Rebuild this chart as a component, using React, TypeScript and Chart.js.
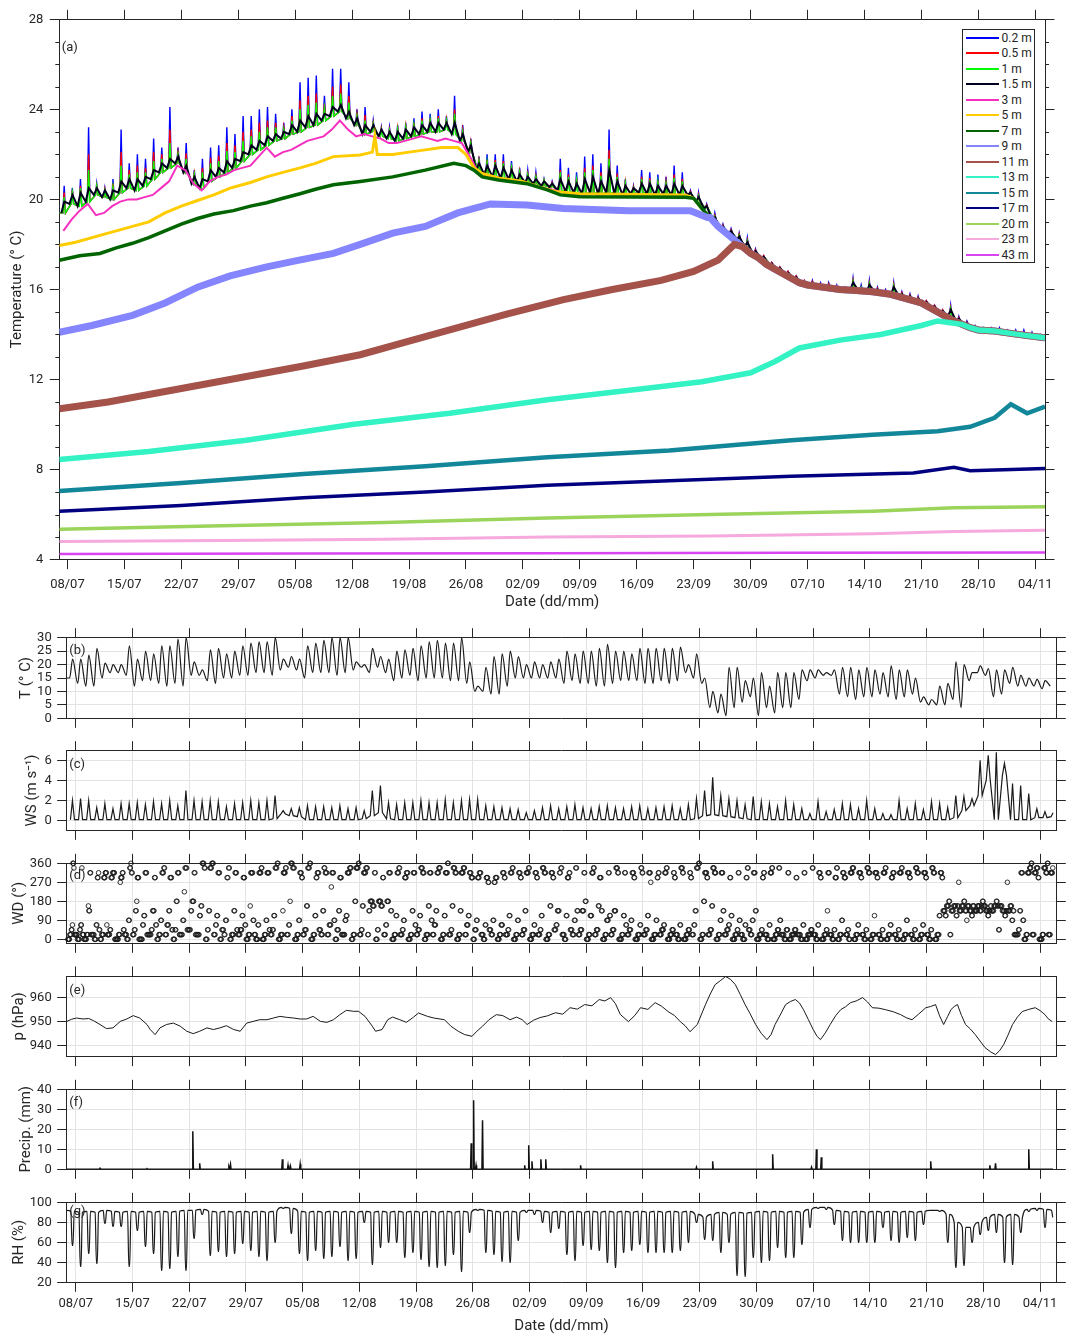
import React, { useEffect, useRef } from 'react';
import { Chart, registerables } from 'chart.js';

Chart.register(...registerables);

const FONT = 'Roboto, "DejaVu Sans", sans-serif';
const TEXT = '#262626';
const AXIS = '#262626';
const GRID = '#e3e3e3';

// ---------- axis ticks ----------
const TICK_DAYS = [1, 8, 15, 22, 29, 36, 43, 50, 57, 64, 71, 78, 85, 92, 99, 106, 113, 120];
const TICK_LABELS = ['08/07', '15/07', '22/07', '29/07', '05/08', '12/08', '19/08', '26/08', '02/09', '09/09', '16/09', '23/09', '30/09', '07/10', '14/10', '21/10', '28/10', '04/11'];
const TA_TICKS = [4, 8, 12, 16, 20, 24, 28];
const TA_MINOR = [5, 6, 7, 9, 10, 11, 13, 14, 15, 17, 18, 19, 21, 22, 23, 25, 26, 27];

// ---------- panel (a): water temperature ----------
const LEGEND_NAMES = ['0.2 m', '0.5 m', '1 m', '1.5 m', '3 m', '5 m', '7 m', '9 m', '11 m', '13 m', '15 m', '17 m', '20 m', '23 m', '43 m'];
const SERIES_COLORS = ['#0000ff', '#ff0000', '#00ff00', '#00001e', '#f52fbf', '#ffcc00', '#006400', '#8585ff', '#a4524a', '#33f2c4', '#13879a', '#000080', '#9bd45a', '#f5a9dc', '#d945f0'];

// surface thermistors: daily baseline and daily afternoon maxima (day 0 = 07/07)
const BLACK_LO = [19.4,19.8,19.7,19.9,20.2,20.1,20.0,20.3,20.5,20.4,
20.6,20.9,21.2,21.4,21.6,21.2,20.7,20.5,20.8,21.0,
21.2,21.4,21.7,22.0,22.2,22.4,22.6,22.7,22.9,23.0,
23.2,23.3,23.5,23.7,23.9,23.6,23.3,22.9,23.0,22.8,
22.7,22.6,22.7,22.8,22.9,23.0,23.0,23.1,22.9,22.6,
22.1,21.3,21.1,21.0,20.95,20.9,20.8,20.75,20.7,20.6,
20.55,20.4,20.35,20.3,20.25,20.3,20.25,20.3,20.25,20.2,
20.25,20.3,20.25,20.2,20.25,20.2,20.2,20.2,19.9,19.6,
19.1,18.7,18.5,18.2,17.9,17.6,17.4,17.1,16.9,16.7,
16.5,16.3,16.2,16.15,16.1,16.05,16.0,16.0,15.95,15.9,
15.9,15.85,15.8,15.7,15.6,15.5,15.4,15.2,15.0,14.8,
14.6,14.45,14.3,14.2,14.2,14.15,14.1,14.05,14.0,13.95,
13.9,13.85];
const BLACK_HI = [19.9,20.2,20.3,20.5,20.5,20.4,20.4,20.8,20.9,20.9,
21.0,21.3,21.6,21.8,21.9,21.5,21.0,20.9,21.3,21.4,
21.7,21.8,22.1,22.4,22.6,22.8,22.9,23.0,23.3,23.5,
23.7,23.8,23.8,24.1,24.2,23.9,23.6,23.3,23.3,23.1,
23.0,23.0,23.1,23.2,23.3,23.4,23.4,23.4,23.4,22.9,
22.4,21.6,21.5,21.5,21.4,21.3,21.1,21.0,20.9,20.8,
20.7,20.9,20.8,20.7,20.9,21.0,20.8,21.3,20.8,20.6,
20.5,20.7,20.7,20.6,20.6,20.7,20.6,20.3,20.1,19.7,
19.2,18.8,18.6,18.35,18.1,17.7,17.45,17.15,16.95,16.75,
16.55,16.35,16.3,16.2,16.2,16.1,16.05,16.3,16.05,16.2,
16.0,15.9,16.1,15.8,15.7,15.6,15.45,15.25,15.05,15.1,
14.7,14.5,14.35,14.25,14.25,14.2,14.15,14.1,14.05,14.0,
13.95,13.87];
const BLUE_HI = [20.6,20.5,20.9,23.2,20.7,20.5,20.9,23.1,21.6,22.0,
21.8,22.7,22.3,24.1,22.3,22.5,21.3,21.8,22.3,22.4,
23.2,22.9,23.7,23.7,24.0,24.1,23.8,23.4,24.0,25.2,
25.4,25.5,24.6,25.8,25.8,25.2,24.0,24.1,23.5,23.2,
23.2,23.3,23.4,23.6,23.9,23.8,24.0,23.7,24.6,23.3,
22.7,21.9,22.0,22.0,22.0,21.7,21.4,21.3,21.2,20.9,
20.8,21.8,21.4,21.2,21.9,22.0,21.6,23.1,21.5,20.9,
20.6,21.3,21.2,21.1,21.0,21.5,21.2,20.4,20.3,19.8,
19.4,18.9,18.7,18.5,18.3,17.8,17.5,17.2,17.0,16.8,
16.6,16.4,16.4,16.3,16.3,16.2,16.1,16.5,16.2,16.4,
16.1,16.0,16.3,15.9,15.8,15.7,15.5,15.3,15.1,15.3,
14.8,14.6,14.4,14.3,14.3,14.3,14.2,14.2,14.2,14.1,
14.0,13.9];
const RED_HI = [20.3,20.4,20.6,22.0,20.6,20.45,20.7,22.1,21.3,21.5,
21.4,22.1,22.0,23.1,22.1,22.05,21.15,21.4,21.85,21.95,
22.5,22.4,23.0,23.1,23.4,23.5,23.4,23.2,23.7,24.4,
24.6,24.7,24.25,25.0,25.1,24.6,23.8,23.75,23.4,23.15,
23.1,23.15,23.25,23.4,23.6,23.6,23.7,23.55,24.0,23.1,
22.55,21.75,21.75,21.75,21.7,21.5,21.25,21.15,21.05,20.85,
20.75,21.3,21.1,20.95,21.4,21.5,21.2,22.2,21.15,20.75,
20.55,21.0,20.95,20.85,20.8,21.1,20.9,20.35,20.2,19.75,
19.3,18.85,18.65,18.45,18.2,17.75,17.5,17.2,17.0,16.8,
16.6,16.4,16.35,16.25,16.25,16.15,16.1,16.4,16.1,16.3,
16.05,15.95,16.2,15.85,15.75,15.65,15.5,15.3,15.1,15.2,
14.75,14.55,14.38,14.28,14.28,14.25,14.18,14.15,14.1,14.05,
13.98,13.9];
const GREEN_HI = [20.1,20.3,20.5,21.3,20.6,20.4,20.55,21.5,21.1,21.2,
21.2,21.7,21.8,22.5,22.0,21.8,21.1,21.2,21.6,21.7,
22.15,22.1,22.6,22.8,23.0,23.2,23.2,23.1,23.5,24.0,
24.2,24.3,24.05,24.6,24.7,24.3,23.7,23.5,23.35,23.1,
23.05,23.1,23.2,23.3,23.5,23.5,23.6,23.5,23.8,23.0,
22.5,21.7,21.65,21.65,21.6,21.4,21.2,21.1,21.0,20.85,
20.7,21.2,21.0,20.85,21.2,21.3,21.05,21.8,21.0,20.7,
20.5,20.9,20.85,20.75,20.7,20.95,20.8,20.3,20.15,19.7,
19.25,18.8,18.6,18.4,18.15,17.7,17.45,17.15,16.95,16.75,
16.55,16.35,16.3,16.2,16.2,16.1,16.05,16.35,16.1,16.25,
16.0,15.9,16.15,15.8,15.7,15.6,15.45,15.25,15.05,15.15,
14.7,14.5,14.36,14.26,14.26,14.22,14.16,14.12,14.07,14.02,
13.96,13.88];
// 3 m daily values until the column mixes (day 77)
const PINK_3M = [18.6,19.1,19.5,19.8,19.3,19.4,19.7,19.9,20.0,20.0,
20.1,20.2,20.5,20.8,21.5,21.3,20.7,20.4,20.8,21.0,
21.1,21.3,21.4,21.5,21.9,22.3,21.9,22.1,22.2,22.4,
22.6,22.7,22.8,23.1,23.5,23.1,22.8,22.9,22.8,22.7,
22.5,22.5,22.6,22.7,22.8,22.7,22.6,22.7,22.6,22.5,
21.9,21.2,21.0,20.9,20.85,20.8,20.75,20.7,20.6,20.5,
20.45,20.35,20.3,20.25,20.2,20.25,20.2,20.25,20.2,20.15,
20.2,20.25,20.2,20.15,20.2,20.15,20.15,20.1];
// mixed column (autumn overturn), shared by the upper sensors
const MIXED = [[78,20.05],[79,19.6],[80,19.2],[81,18.8],[82,18.5],[83,18.2],[84,17.9],[85,17.6],[86,17.4],[87,17.1],[88,16.9],[89,16.7],[90,16.5],[91,16.3],[92,16.2],[94,16.1],[96,16.0],[98,15.95],[100,15.9],[102,15.8],[103,15.7],[104,15.6],[105,15.5],[106,15.4],[107,15.2],[108,15.0],[109,14.8],[110,14.6],[111,14.45],[112,14.3],[113,14.2],[115,14.15],[117,14.05],[119,13.95],[121.2,13.85]];
const GOLD_5M = [[0,17.95],[2,18.1],[5,18.4],[9,18.8],[11,19.0],[13,19.4],[15,19.7],[17,19.95],[19,20.2],[21,20.5],[23.5,20.75],[25.5,21.0],[27.5,21.2],[29.6,21.4],[31.5,21.6],[33.7,21.9],[37,21.97],[38.5,22.1],[38.8,22.8],[39.1,22.0],[41,22.0],[43,22.1],[45,22.2],[47,22.3],[49,22.3],[50,22.0],[51,21.4],[52,21.15],[54,20.95],[57,20.8],[59,20.55],[61,20.35],[64,20.25],[77,20.2]];
const DKGREEN_7M = [[0,17.3],[2.5,17.5],[5,17.6],[7,17.85],[9,18.05],[11,18.3],[13,18.6],[15,18.9],[17,19.15],[19,19.35],[21.4,19.5],[23.5,19.7],[25.5,19.85],[27.5,20.05],[29.6,20.25],[31.5,20.45],[33.7,20.65],[37,20.8],[41,21.0],[45,21.3],[48.5,21.6],[50,21.5],[51,21.3],[52,21.0],[54,20.86],[57.5,20.7],[60,20.42],[61.6,20.2],[64,20.12],[77,20.1]];
const LILAC_9M = [[0,14.1],[4,14.4],[9,14.85],[13,15.4],[17,16.1],[21,16.6],[25.5,17.0],[29.5,17.3],[33.7,17.6],[37,18.0],[41,18.5],[45,18.8],[49,19.4],[53,19.8],[57.5,19.75],[62,19.6],[70,19.5],[77.6,19.5],[79.7,19.2]];
const BROWN_11M = [[0,10.7],[6,11.0],[12,11.4],[18,11.8],[24,12.2],[30,12.6],[37,13.1],[43,13.7],[49,14.3],[55,14.9],[62,15.55],[68,16.0],[74,16.4],[78,16.8],[81,17.3],[83,18.0]];
const AQUA_13M = [[0,8.45],[11,8.8],[23,9.3],[36,10.0],[48,10.5],[60,11.1],[72,11.6],[79,11.9],[85,12.3],[88,12.8],[91,13.4],[96,13.75],[101,14.0],[106,14.4],[108,14.6],[110,14.5]];
const TEAL_15M = [[0,7.05],[15,7.4],[30,7.8],[45,8.15],[60,8.55],[75,8.85],[90,9.3],[100,9.55],[108,9.7],[112,9.9],[115,10.3],[117,10.9],[119,10.5],[121.2,10.8]];
const NAVY_17M = [[0,6.15],[15,6.4],[30,6.75],[45,7.0],[60,7.3],[75,7.5],[90,7.7],[105,7.85],[110,8.1],[112,7.95],[121.2,8.05]];
const LIME_20M = [[0,5.35],[20,5.5],[40,5.65],[60,5.85],[80,6.0],[100,6.15],[110,6.3],[121.2,6.35]];
const ROSE_23M = [[0,4.8],[20,4.85],[40,4.9],[60,5.0],[80,5.05],[100,5.15],[110,5.25],[121.2,5.3]];
const VIOLET_43M = [[0,4.25],[30,4.27],[60,4.28],[90,4.3],[121.2,4.32]];

// ---------- panel (b): air temperature, daily min / max ----------
const T_LO = [15,13,12,12,15,17,17,16,12,14,
14,13,12,13,12,16,16,14,13,15,
15,16,16,17,17,16,18,19,18,15,
17,17,17,16,17,18,19,17,19,17,
14,15,16,14,15,15,15,14,14,13,
10,10,9,9,12,15,15,15,15,15,
15,13,14,13,13,12,12,13,14,14,
14,13,13,14,13,14,17,15,13,4,
2,1,4,6,8,1,4,2,4,4,
7,14,15,16,16,9,8,7,8,8,
9,8,7,8,9,6,5,5,5,7,
4,14,17,16,8,9,13,12,12,12,
11,12];
const T_HI = [22,22,23.5,26,20.5,20,20,27,22,25,
24,27,27,29.5,30,21,18,25.5,26,24,
25,27,28,28.5,28.5,30,22,23,22,27,
28,29,30,30,30,21,20,26,23,22,
25,25.5,26,27,28.5,29,28,28,30,21,
12,19,23,24,25,23,20,21,20,21,
22,25,24,25,25,26,27.5,25,25,24,
26,26,26,26,26,26.5,20,24,15,10,
9,19,19,14,15,17,12,17,17,17,
18,18,18,17,18,19,19,18,19,18,
17,19.5,18,18,15,8,7,12,13,21,
20,17,19.5,18.5,18,18,19,16,15,14.5,
14,14.5];

// ---------- panel (c): wind speed, daily min / max ----------
const WS_LO = [0.1,0.1,0.1,0.1,0.1,0.1,0.1,0.1,0.1,0.1,
0.1,0.1,0.1,0.1,0.1,0.1,0.1,0.1,0.1,0.1,
0.1,0.1,0.1,0.1,0.1,0.2,0.7,0.5,0.4,0.1,
0.1,0.1,0.1,0.1,0.1,0.1,0.2,0.5,0.8,0.2,
0.1,0.1,0.1,0.1,0.1,0.1,0.1,0.1,0.1,0.1,
0.1,0.1,0.1,0.1,0.1,0.1,0.1,0.1,0.1,0.1,
0.1,0.1,0.1,0.1,0.1,0.1,0.1,0.1,0.1,0.1,
0.1,0.1,0.1,0.1,0.1,0.1,0.1,0.2,0.5,0.6,
0.5,0.4,0.3,0.2,0.1,0.1,0.1,0.1,0.1,0.1,
0.1,0.1,0.1,0.1,0.1,0.1,0.1,0.1,0.1,0.1,
0.1,0.1,0.1,0.1,0.1,0.1,0.1,0.1,0.1,0.3,
1.0,1.5,2.5,4.0,0.1,4.5,0.1,0.1,0.1,0.3,
0.3,0.4];
const WS_HI = [2.0,2.2,2.0,1.3,1.7,1.2,1.7,1.7,1.8,1.6,
1.9,1.7,2.0,1.5,3.0,2.0,1.9,2.0,1.9,1.4,
1.7,1.8,2.0,1.8,2.0,2.5,1.0,1.2,1.3,1.5,
1.4,1.4,1.3,1.5,1.2,1.3,1.0,3.0,3.5,1.8,
1.6,1.8,1.8,2.0,1.8,1.8,2.1,1.8,2.0,2.1,
2.1,1.5,1.4,1.3,1.2,1.1,0.8,1.0,1.3,1.5,
1.2,1.4,1.6,1.3,1.2,1.4,1.5,1.3,1.2,1.4,
1.5,1.2,1.3,1.4,1.5,1.2,1.6,2.2,3.0,4.3,
2.5,2.2,2.0,1.6,2.4,1.9,1.7,1.4,2.0,1.6,
1.2,0.7,1.9,0.9,1.1,1.7,1.6,1.2,2.0,1.2,
0.7,0.6,2.0,1.2,1.7,1.1,1.9,1.7,1.3,2.5,
2.4,2.2,6.0,6.5,6.8,5.7,3.7,3.5,2.7,1.2,
0.9,0.8];

// ---------- panel (d): wind direction, hourly runs per day as [direction, hours, ...] ----------
const WD_RUNS = [
[0,4,22,3,45,2,68,1,360,2,338,1,22,3],[22,3,0,4,45,2,68,2,338,1,22,3],[0,5,22,3,158,1,135,2,315,2,22,2],[22,4,0,3,68,2,292,2,315,1,45,2],
[0,3,22,4,292,3,315,3,68,1,22,2],[22,3,45,2,292,3,315,4,0,3],[0,4,22,3,270,1,292,3,315,2,45,2],[22,4,0,3,90,2,338,2,360,1,315,2],
[22,3,45,2,135,2,180,1,292,3,0,3],[0,3,68,2,112,2,315,3,22,3],[22,4,45,2,135,3,292,2,68,2],[0,3,22,3,90,2,315,3,338,2],
[22,3,68,3,135,2,292,3,45,2],[0,3,45,2,180,2,315,3,22,3],[22,2,90,2,225,1,338,3,45,3],[45,2,135,2,180,3,315,2,22,3],
[22,3,112,2,158,2,360,3,338,2],[0,3,45,2,135,2,338,3,360,3],[22,3,68,2,112,2,315,3,0,3],[45,3,22,2,90,2,292,2,338,2],
[0,3,22,4,135,2,315,3,45,2],[22,4,45,3,112,2,292,3,68,2],[0,4,22,3,158,1,315,4,90,2],[22,3,0,4,68,2,315,4,338,2],
[0,4,22,3,90,2,315,4,45,2],[22,3,45,2,112,2,338,3,360,2],[0,4,22,4,135,1,315,4,338,2],[22,3,68,2,180,1,360,3,338,3],
[0,4,22,3,90,2,315,3,292,2],[22,3,45,3,158,2,338,3,360,2],[0,4,22,3,112,2,292,2,315,3],[45,3,22,3,135,2,338,2,315,3],
[22,3,68,3,248,1,315,3,90,2],[0,3,45,3,135,2,292,3,22,3],[22,3,90,2,112,2,315,4,338,3],[0,3,22,3,180,2,338,4,360,2],
[22,3,45,2,158,2,315,4,338,3],[22,2,135,2,180,4,158,3,315,2],[0,3,45,2,180,4,158,3,292,2],[22,3,68,2,180,3,315,3,135,2],
[0,4,22,3,112,2,315,3,338,2],[22,4,45,2,90,2,292,3,315,3],[0,4,22,3,135,2,315,3,68,2],[22,3,45,3,112,2,338,3,315,3],
[0,3,22,4,158,2,315,3,90,2],[22,3,68,3,135,2,315,3,338,3],[0,4,22,3,112,2,315,4,360,2],[22,4,45,2,158,2,338,3,315,3],
[0,4,22,3,135,2,315,4,338,3],[22,3,68,3,112,2,315,3,292,3],[0,3,45,3,90,2,292,3,315,3],[22,4,0,3,68,2,292,3,270,2],
[45,3,22,3,90,2,270,2,292,3],[0,4,22,3,68,3,315,3,292,2],[22,4,45,2,112,2,315,3,338,2],[0,4,22,3,90,2,315,3,292,2],
[22,3,45,3,135,2,315,4,338,2],[0,4,22,4,68,2,315,3,292,2],[22,4,45,2,112,2,338,3,315,3],[0,4,22,3,158,2,315,3,292,2],
[45,3,68,2,135,3,315,2,338,2],[22,4,0,3,112,2,292,3,315,2],[45,3,22,3,90,2,338,2,135,2],[22,3,45,3,135,3,315,2,180,2],
[0,4,22,3,112,3,315,3,338,2],[22,3,45,3,158,2,292,3,135,2],[0,4,22,3,90,3,315,2,112,2],[22,3,45,3,135,3,338,3,315,2],
[0,5,22,3,112,2,315,2,68,2],[22,4,45,3,90,2,315,3,292,2],[0,5,22,4,68,2,338,2,315,2],[22,4,45,3,112,2,315,3,270,1],
[0,5,22,4,90,2,292,2,315,2],[22,4,45,4,68,2,315,3,338,2],[0,5,22,4,45,3,315,2,292,2],[22,4,0,4,68,2,338,3,315,2],
[0,5,22,4,45,3,315,2,292,2],[22,3,68,2,135,2,338,3,360,2],[0,4,22,3,180,2,315,4,292,2],[22,4,45,3,158,2,338,3,315,3],
[0,4,22,3,90,2,315,3,135,2],[22,4,45,3,68,2,292,2,112,2],[0,5,22,4,45,2,315,2,90,2],[22,4,0,4,68,2,292,2,338,2],
[45,3,22,3,90,2,315,3,135,2],[0,5,22,4,45,2,292,2,315,2],[22,5,0,4,68,2,315,3,338,2],[0,5,22,4,45,3,338,2,90,2],
[22,6,0,4,45,3,315,2],[0,5,22,6,45,3,292,2],[22,6,0,4,68,2,315,2],[0,5,22,6,45,3,338,2],
[22,5,0,4,68,2,315,3,292,2],[0,5,22,4,45,2,135,1,315,3],[22,5,0,4,45,2,292,3,338,2],[0,4,22,4,90,2,315,3,292,3],
[22,4,45,2,0,3,315,4,338,3],[0,4,22,4,68,2,315,4,292,2],[22,4,0,4,45,2,338,3,315,3],[0,4,22,4,112,1,315,4,292,2],
[22,4,0,4,45,2,315,4,338,2],[0,4,22,4,68,2,292,3,315,3],[22,4,0,4,45,2,315,4,338,2],[0,4,22,4,90,2,315,4,292,2],
[22,4,0,4,45,2,338,3,315,3],[0,4,22,4,68,2,315,4,292,2],[22,4,0,4,45,2,338,3,315,3],[0,4,22,4,112,2,315,3,292,2],
[135,4,112,2,158,4,180,2,22,2],[135,4,158,4,112,2,158,2,270,1],[135,4,158,4,180,2,135,3,90,1],[158,4,135,4,112,2,158,3,135,2],
[135,4,158,4,135,3,158,2,180,2],[158,4,135,4,112,2,135,3,158,2],[135,4,158,4,180,2,158,2,45,2],[158,4,135,4,112,2,135,2,270,1],
[135,4,158,3,90,2,135,2,22,3],[22,4,45,2,135,2,315,3,90,2],[0,4,22,3,315,4,338,3,360,2],[22,4,315,4,338,3,292,2,0,2],
[0,4,22,3,338,4,315,3,360,2],[22,4,315,4,338,3,292,2,360,2]];

// ---------- panel (e): pressure ----------
const P_KNOTS = [[-0.1,950.1],[0.5,951],[1.1,951.5],[1.9,951.1],[2.6,951.3],[3.2,950.4],[4,948.8],[4.8,947.1],[5.6,947.4],[6.5,950.1],[7.3,951.1],[8.1,952.5],[8.9,951.5],[9.8,948.8],[10.2,946.7],[10.8,944.6],[11.4,947.4],[12.2,948.8],[13.05,949.4],[13.9,948.1],[14.7,946],[15.5,945],[16.3,946],[17.2,947.4],[18,946.7],[18.8,947.4],[19.6,948.3],[20.5,946.7],[21.3,946],[22.1,949.4],[22.9,950.1],[23.7,950.8],[24.6,950.8],[25.4,951.5],[26.2,952.2],[27,951.8],[27.9,951.5],[28.7,951.1],[29.5,951.1],[30.3,952.2],[31.2,950.1],[32,949.7],[32.8,950.8],[33.6,952.9],[34.4,954.7],[35.3,954.3],[35.9,954.3],[36.7,952.2],[37.6,948.1],[38,946],[38.8,946.7],[39.5,950.8],[40.1,951.9],[41,950.8],[41.8,949.7],[42.7,951.9],[43.3,953.6],[44.4,952.2],[45.2,951.5],[46.5,950.8],[47.3,948.1],[48.2,946],[49,944.6],[49.9,943.9],[50.5,946],[51.2,948.1],[52,950.8],[52.9,952.9],[53.7,952.5],[54.6,950.8],[55.4,951.9],[56.1,950.8],[56.7,948.8],[57.5,950.6],
[58.3,951.7],[59.2,952.4],[60.2,953.7],[61.1,953.1],[62,955.8],[62.9,955.2],[63.8,957.1],[64.7,956.6],[65.6,959.2],[66.3,958.6],[67,960],[67.6,957.5],[68.2,953],[69.2,950],[70,952.6],[70.7,955.8],[71.6,955.1],[72.5,957.9],[73.3,956.4],[74.1,954.2],[74.9,952.5],[75.6,950],[76.2,948.3],[76.8,945.8],[77.7,948.8],[78.7,957],[79.3,961.5],[79.9,965.4],[80.6,967.2],[81.2,968.8],[81.8,967.6],[82.4,965.4],[83,961.3],[83.6,957.1],[84.2,953.4],[84.9,948.8],[85.6,945.1],[86.3,942.5],[86.8,944.6],[87.3,948.8],[88,953.2],[88.6,957.1],[89.2,958.4],[89.8,959.2],[90.3,957.8],[90.8,955],[91.4,950.9],[92,946.7],[92.5,943.8],[92.9,942.5],[93.5,945.3],[94.1,948.8],[94.8,952.6],[95.4,955],[96,956.2],[96.6,957.9],[97.3,958.6],[98.1,960],[98.7,958.2],[99.3,955.8],[100.1,955.6],[100.9,955],[101.9,954.1],[102.8,952.9],[103.5,951.6],[104.2,950.8],[105,953.1],[105.9,955.8],[106.5,956.3],[107.1,957.1],[107.6,952.4],[108.1,948.8],[108.6,952.2],[109,955],[109.4,956.3],[109.8,957.1],[110.3,952.6],[110.8,948.8],[111.4,946.9],[112,944.6],[112.6,941.9],[113.2,939.2],[113.9,937.4],[114.5,936.3],[115,937.9],[115.5,940.4],[116,944.1],[116.6,948.8],[117.2,951.9],[117.8,954.2],[118.6,955.1],[119.4,955.8],[120,954.6],[120.6,952.9],[121,951.2],[121.5,950]];

// ---------- panel (f): precipitation events [day, mm] ----------
const PRECIP_EVENTS = [[4.0,0.5],[9.8,0.3],[15.45,19],[16.3,3],[19.9,1],[20.1,2.5],[26.5,5],[27.2,2],[27.5,1.5],[28.7,2.5],[49.8,13],[50.1,34.5],[50.4,2],[51.2,24.5],[56.4,2],[56.9,12],[57.3,4],[58.4,5],[59,5],[63.3,2],[77.6,1],[79.6,4],[87,7.5],[91.8,1],[92.4,10],[93,6],[106.5,4],[113.8,2],[114.5,3],[118.6,10]];

// ---------- panel (g): relative humidity, daily max / min ----------
const RH_HI = [91,90,91,90,92,91,90,91,90,91,
90,91,90,91,92,92,93,91,90,91,
90,91,90,91,90,91,95,94,91,90,
91,90,91,90,91,90,91,90,91,90,
91,90,91,90,91,90,91,90,91,90,
93,92,91,90,91,90,92,92,91,90,
91,90,91,90,91,90,91,90,91,90,
91,90,91,90,91,90,91,88,85,88,
90,88,90,89,90,91,90,91,90,91,
90,93,95,95,92,91,90,91,90,91,
90,91,90,91,90,91,92,92,88,80,
75,75,80,85,88,85,88,85,93,94,
93,92];
const RH_LO = [57,36,49,39,79,76,76,36,72,56,
49,32,34,46,32,64,88,47,51,46,
49,59,52,46,42,60,94,69,49,42,
52,44,46,56,42,44,80,38,55,60,
60,45,50,43,36,35,37,48,31,70,
92,50,48,41,40,62,90,88,80,70,
74,48,42,57,53,52,40,35,50,52,
58,50,50,50,50,52,60,80,63,62,
50,60,27,26,45,40,42,55,45,45,
58,75,94,93,78,62,60,60,60,60,
75,62,60,65,62,78,92,91,60,35,
37,60,68,72,70,40,38,70,91,92,
75,85];

// ---------- builders ----------
type XY = { x: number; y: number };
const knots = (k: number[][]): XY[] => k.map(([x, y]) => ({ x, y }));
const withMixed = (k: number[][], after: number): XY[] =>
  knots(k).concat(knots(MIXED.filter(([d]) => d > after)));

function spikes(lo: number[], hi: number[]): XY[] {
  const pts: XY[] = [{ x: 0, y: lo[0] }];
  lo.forEach((v, d) => {
    pts.push({ x: d + 0.45, y: v }, { x: d + 0.6, y: hi[d] }, { x: d + 0.76, y: v });
  });
  return pts;
}
function twoPerDay(lo: number[], hi: number[], fLo: number, fHi: number, end: number): XY[] {
  const pts: XY[] = [];
  lo.forEach((v, d) => {
    const a = { x: d + fLo, y: v };
    const b = { x: d + fHi, y: hi[d] };
    if (fLo < fHi) pts.push(a, b); else pts.push(b, a);
  });
  return pts.filter((p) => p.x <= end);
}
function threePerDay(base: number[], peak: number[], end: number): XY[] {
  const pts: XY[] = [];
  base.forEach((v, d) => {
    pts.push({ x: d + 0.35, y: v }, { x: d + 0.6, y: peak[d] }, { x: d + 0.85, y: v });
  });
  return pts.filter((p) => p.x <= end);
}
// humid nights (plateau) and an afternoon trough
function troughs(hi: number[], lo: number[], end: number): XY[] {
  const pts: XY[] = [];
  hi.forEach((v, d) => {
    pts.push({ x: d + 0.4, y: v }, { x: d + 0.56, y: lo[d] }, { x: d + 0.66, y: lo[d] }, { x: d + 0.82, y: v });
  });
  return pts.filter((p) => p.x <= end);
}

function buildScales(p: any) {
  const tick = { tickColor: AXIS, tickLength: 9.5, tickWidth: 1 };
  const setX = (s: any) => { s.ticks = TICK_DAYS.map((v) => ({ value: v })); };
  const setY = (s: any) => { s.ticks = p.yTicks.map((v: number) => ({ value: v })); };
  const border = { display: true, color: AXIS, width: 1 };
  return {
    x: {
      type: 'linear', position: 'bottom', min: p.xMin, max: p.xMax,
      afterBuildTicks: setX,
      afterFit: (s: any) => { s.height = p.bottomH; },
      ticks: {
        display: !!p.xLabels, autoSkip: false, maxRotation: 0, minRotation: 0,
        padding: p.xLabelPad ?? 5, color: TEXT, font: { size: 13, family: FONT },
        callback: (v: any) => { const i = TICK_DAYS.indexOf(Number(v)); return i >= 0 ? TICK_LABELS[i] : ''; },
      },
      grid: { display: true, drawOnChartArea: p.grid, color: GRID, lineWidth: 1, ...tick },
      border,
      title: { display: !!p.xTitle, text: p.xTitle || '', color: TEXT, font: { size: 15, family: FONT }, padding: { top: 0, bottom: p.xTitlePad ?? 8 } },
    },
    x2: {
      type: 'linear', position: 'top', min: p.xMin, max: p.xMax,
      afterBuildTicks: setX,
      afterFit: (s: any) => { s.height = p.topH; },
      ticks: { display: false },
      grid: { display: true, drawOnChartArea: false, ...tick },
      border,
    },
    y: {
      type: 'linear', position: 'left', min: p.yMin, max: p.yMax,
      afterBuildTicks: setY,
      afterFit: (s: any) => { s.width = p.leftW; },
      ticks: { autoSkip: false, padding: p.yLabelPad ?? 5.5, color: TEXT, font: { size: 13, family: FONT } },
      grid: { display: true, drawOnChartArea: p.grid, color: GRID, lineWidth: 1, ...tick },
      border,
      title: { display: true, text: p.yTitle, color: TEXT, font: { size: 15, family: FONT }, padding: { top: p.yTitleCenter - 9, bottom: 0 } },
    },
    y2: {
      type: 'linear', position: 'right', min: p.yMin, max: p.yMax,
      afterBuildTicks: setY,
      afterFit: (s: any) => { s.width = p.rightW; },
      ticks: { display: false, autoSkip: false },
      grid: { display: true, drawOnChartArea: false, ...tick },
      border,
    },
  };
}

const extrasPlugin = {
  id: 'frameExtras',
  afterDraw(chart: any, _a: any, opts: any) {
    const { ctx, chartArea, scales } = chart;
    ctx.save();
    if (opts && opts.minor) {
      ctx.strokeStyle = AXIS;
      ctx.lineWidth = 1;
      ctx.beginPath();
      for (const v of opts.minor) {
        const y = Math.round(scales.y.getPixelForValue(v)) + 0.5;
        ctx.moveTo(chartArea.left - 4, y); ctx.lineTo(chartArea.left, y);
        ctx.moveTo(chartArea.right, y); ctx.lineTo(chartArea.right + 4, y);
      }
      ctx.stroke();
    }
    if (opts && opts.label) {
      ctx.font = `13px ${FONT}`;
      ctx.fillStyle = TEXT;
      ctx.textBaseline = 'middle';
      ctx.textAlign = 'left';
      ctx.fillText(opts.label, chartArea.left + opts.dx, chartArea.top + opts.dy);
    }
    ctx.restore();
  },
};
Chart.register(extrasPlugin);

const LOW_X = { xMin: -0.11, xMax: 122.0, leftW: 66.7, rightW: 21.7 };

function baseOptions(scales: any, plugin: any) {
  return {
    responsive: false, animation: false, devicePixelRatio: 1, events: [],
    layout: { padding: 0 },
    plugins: { legend: { display: false }, tooltip: { enabled: false }, frameExtras: plugin },
    scales,
  };
}

function lineDs(data: XY[], color: string, width: number, extra: any = {}) {
  return { type: 'line', data, borderColor: color, backgroundColor: color, borderWidth: width, pointRadius: 0, fill: false, parsing: false, ...extra };
}

function configA() {
  const series: XY[][] = [
    spikes(BLACK_LO, BLUE_HI),
    spikes(BLACK_LO, RED_HI),
    spikes(BLACK_LO, GREEN_HI),
    twoPerDay(BLACK_LO, BLACK_HI, 0.25, 0.62, 121.2),
    knots(PINK_3M.map((v, d) => [d + 0.5, v])).concat(knots(MIXED)),
    withMixed(GOLD_5M, 77.5),
    withMixed(DKGREEN_7M, 77.5),
    withMixed(LILAC_9M, 79.7),
    withMixed(BROWN_11M, 83),
    withMixed(AQUA_13M, 110),
    knots(TEAL_15M), knots(NAVY_17M), knots(LIME_20M), knots(ROSE_23M), knots(VIOLET_43M),
  ];
  const widths = [1.4, 1.4, 1.4, 2, 2, 3, 3.5, 7, 7, 5.5, 4.5, 3.5, 3.5, 3, 2.5];
  const datasets = series.map((d, i) => lineDs(d, SERIES_COLORS[i], widths[i], { order: -i, label: LEGEND_NAMES[i] }));
  const scales = buildScales({
    xMin: 0, xMax: 121.2, yMin: 4, yMax: 28, yTicks: TA_TICKS,
    leftW: 59.3, rightW: 33, topH: 19.3, bottomH: 60.4, grid: false,
    xLabels: true, xLabelPad: 7.5, xTitle: 'Date (dd/mm)', xTitlePad: 9,
    yTitle: 'Temperature (° C)', yTitleCenter: 17, yLabelPad: 6.5,
  });
  return { type: 'line', data: { datasets }, options: baseOptions(scales, { label: '(a)', dx: 2.5, dy: 28.2, minor: TA_MINOR }) };
}

function lowerConfig(p: any, datasets: any[], label: string, dy: number) {
  const scales = buildScales({ ...LOW_X, grid: true, ...p });
  return { type: 'line', data: { datasets }, options: baseOptions(scales, { label, dx: 2.6, dy }) };
}

function configB() {
  const data = [{ x: -0.11, y: 15 }, ...twoPerDay(T_LO, T_HI, 0.25, 0.62, 121.6)];
  return lowerConfig({ yMin: 0, yMax: 30, yTicks: [0, 5, 10, 15, 20, 25, 30], topH: 15.7, bottomH: 16.7, yTitle: 'T (° C)', yTitleCenter: 26.5 },
    [lineDs(data, '#1a1a1a', 1.2, { cubicInterpolationMode: 'monotone' })], '(b)', 13);
}
function configC() {
  const data = threePerDay(WS_LO, WS_HI, 121.6);
  return lowerConfig({ yMin: -0.95, yMax: 6.95, yTicks: [0, 2, 4, 6], topH: 15.7, bottomH: 16.7, yTitle: 'WS (m s⁻¹)', yTitleCenter: 32 },
    [lineDs(data, '#1a1a1a', 1.2)], '(c)', 14);
}
function configD() {
  const pts: XY[] = [];
  WD_RUNS.forEach((runs, d) => {
    let n = 0;
    for (let i = 1; i < runs.length; i += 2) n += runs[i];
    let k = 0;
    for (let i = 0; i < runs.length; i += 2) {
      for (let j = 0; j < runs[i + 1]; j++) { pts.push({ x: d + (k + 0.5) / n, y: runs[i] }); k++; }
    }
  });
  const data = pts.filter((p) => p.x <= 121.6);
  return lowerConfig({ yMin: -19, yMax: 360, yTicks: [0, 90, 180, 270, 360], topH: 16.3, bottomH: 16.7, yTitle: 'WD (°)', yTitleCenter: 19 },
    [{ type: 'scatter', data, parsing: false, showLine: false, pointRadius: 2.3, pointStyle: 'circle', pointBorderWidth: 0.9, borderColor: '#1a1a1a', backgroundColor: 'rgba(0,0,0,0)', clip: 4 }], '(d)', 12.8);
}
function configE() {
  return lowerConfig({ yMin: 935.4, yMax: 969, yTicks: [940, 950, 960], topH: 16, bottomH: 16.3, yTitle: 'p (hPa)', yTitleCenter: 19 },
    [lineDs(knots(P_KNOTS), '#1a1a1a', 1)], '(e)', 14.5);
}
function configF() {
  const pts: XY[] = [{ x: -0.11, y: 0 }];
  PRECIP_EVENTS.forEach(([d, v]) => pts.push({ x: d - 0.07, y: 0 }, { x: d, y: v }, { x: d + 0.07, y: 0 }));
  pts.push({ x: 121.6, y: 0 });
  return lowerConfig({ yMin: 0, yMax: 40, yTicks: [0, 10, 20, 30, 40], topH: 16.3, bottomH: 16.7, yTitle: 'Precip. (mm)', yTitleCenter: 26.5 },
    [lineDs(pts, '#111111', 1.5, { fill: 'origin', backgroundColor: '#111111' })], '(f)', 13);
}
function configG() {
  const data = [{ x: -0.11, y: 92 }, ...troughs(RH_HI, RH_LO, 121.6)];
  return lowerConfig({ yMin: 20, yMax: 100, yTicks: [20, 40, 60, 80, 100], topH: 16.3, bottomH: 58.7, yTitle: 'RH (%)', yTitleCenter: 19,
    xLabels: true, xLabelPad: 4.4, xTitle: 'Date (dd/mm)', xTitlePad: 6 },
    [lineDs(data, '#1a1a1a', 1.2, { cubicInterpolationMode: 'monotone' })], '(g)', 9);
}

function ChartCanvas({ top, height, make }: { top: number; height: number; make: () => any }) {
  const ref = useRef<HTMLCanvasElement>(null);
  useEffect(() => {
    const chart = new Chart(ref.current as HTMLCanvasElement, make());
    return () => chart.destroy();
  }, []);
  return <canvas ref={ref} width={1078} height={height} style={{ position: 'absolute', left: 0, top, width: 1078, height }} />;
}

function Legend() {
  return (
    <div style={{ position: 'absolute', left: 961.5, top: 28.5, width: 73, height: 234, border: '1px solid #262626', background: '#fff', boxSizing: 'border-box', fontFamily: FONT, fontSize: 12, color: TEXT }}>
      {LEGEND_NAMES.map((name, i) => (
        <div key={name} style={{ position: 'absolute', left: 3, top: 8.2 + i * 15.5 - 8, height: 16, display: 'flex', alignItems: 'center', whiteSpace: 'nowrap' }}>
          <span style={{ display: 'inline-block', width: 33, height: 2, background: SERIES_COLORS[i] }} />
          <span style={{ marginLeft: 3, lineHeight: '16px' }}>{name}</span>
        </div>
      ))}
    </div>
  );
}

export default function App() {
  return (
    <div style={{ position: 'absolute', left: 0, top: 0, width: 1078, height: 1341, background: '#fff', overflow: 'hidden' }}>
      <ChartCanvas top={0} height={620} make={configA} />
      <ChartCanvas top={622} height={113} make={configB} />
      <ChartCanvas top={735} height={112} make={configC} />
      <ChartCanvas top={847} height={113} make={configD} />
      <ChartCanvas top={960} height={113} make={configE} />
      <ChartCanvas top={1073} height={113} make={configF} />
      <ChartCanvas top={1186} height={155} make={configG} />
      <Legend />
    </div>
  );
}
